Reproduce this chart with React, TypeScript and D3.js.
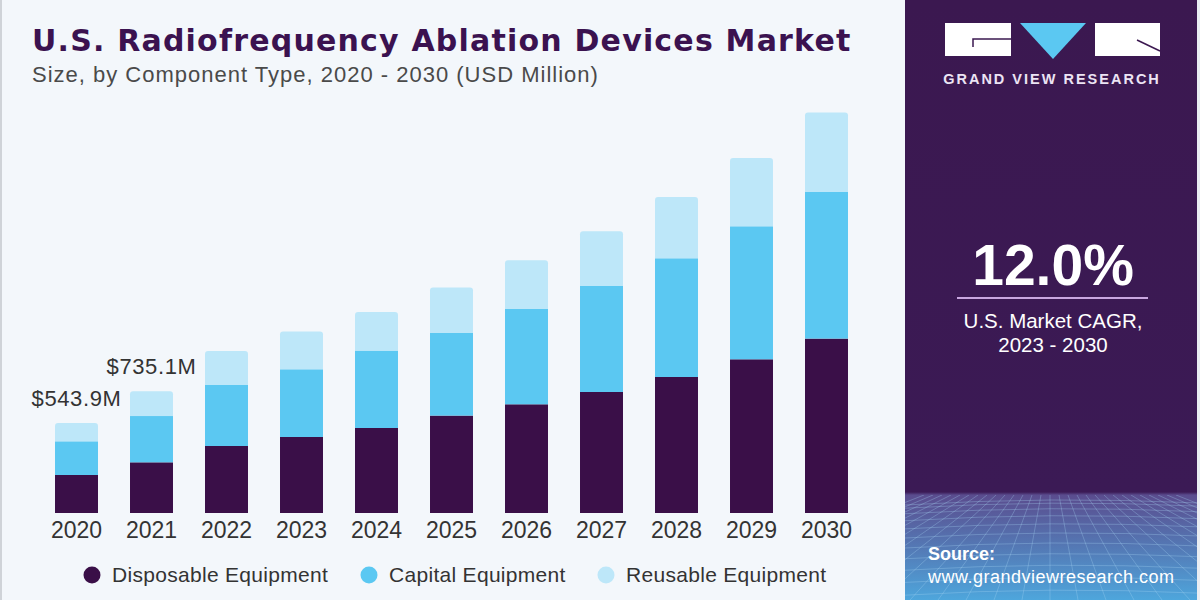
import * as d3 from "d3";

const years = ["2020", "2021", "2022", "2023", "2024", "2025", "2026", "2027", "2028", "2029", "2030"];
const disposable = [229.6, 306.2, 404.9, 459.3, 513.7, 588.6, 656.9, 731.2, 821.9, 928.8, 1053.9];
const capital = [203.4, 279.7, 368.6, 409.1, 467.7, 499.2, 575.9, 640.6, 717.3, 803.7, 885.9];
const reusable = [110.9, 149.2, 205.5, 227.8, 233.3, 274.4, 294.3, 330.5, 370.4, 412.7, 479.8];

const seriesKeys = ["disposable", "capital", "reusable"];
const seriesNames = ["Disposable Equipment", "Capital Equipment", "Reusable Equipment"];
const seriesColors = ["#3a0f48", "#5bc8f2", "#bde7f9"];

// only the first two years carry a total label
const labelledYears = ["2020", "2021"];

const W = 1200;
const H = 600;
const PANEL_X = 905;

const rows = years.map((year, i) => ({
  year,
  disposable: disposable[i],
  capital: capital[i],
  reusable: reusable[i],
}));

export default function App() {
  const x = d3.scaleBand<string>()
    .domain(years)
    .range([39, 864])
    .paddingInner(0.427)
    .paddingOuter(0.2135);

  const y = d3.scaleLinear().domain([0, 2500]).range([513, 99.3]);

  const stacked = d3.stack<(typeof rows)[number]>().keys(seriesKeys)(rows);
  const top = stacked[stacked.length - 1];

  // mesh in the lower part of the side panel
  const meshTop = 495;
  const hLines = d3.range(0, 12).map((i) => meshTop + 6 + Math.pow(i, 1.45) * 3.2);
  const vLines = d3.range(-14, 15).map((i) => i);

  const roundedTop = (x0: number, y0: number, w: number, h: number, r: number) =>
    `M${x0},${y0 + h}V${y0 + r}Q${x0},${y0} ${x0 + r},${y0}H${x0 + w - r}Q${x0 + w},${y0} ${x0 + w},${y0 + r}V${y0 + h}Z`;

  return (
    <div style={{ position: "absolute", left: 0, top: 0 }}>
      <svg width={W} height={H} style={{ display: "block" }} fontFamily="'Liberation Sans', Arial, sans-serif">
        <defs>
          <linearGradient id="panelGrad" x1="0" y1="0" x2="0" y2="1">
            <stop offset="0" stopColor="#3b1850" />
            <stop offset="0.82" stopColor="#3b1a55" />
            <stop offset="0.825" stopColor="#5a4c8e" />
            <stop offset="1" stopColor="#4ea6dc" />
          </linearGradient>
          <clipPath id="meshClip">
            <rect x={PANEL_X} y={meshTop} width={W - 3 - PANEL_X} height={H - meshTop} />
          </clipPath>
        </defs>

        <rect x={0} y={0} width={W} height={H} fill="#f3f7fb" />
        <rect x={0} y={0} width={2} height={H} fill="#cfd3d8" />

        {/* side panel */}
        <rect x={PANEL_X} y={0} width={W - 3 - PANEL_X} height={H} fill="url(#panelGrad)" />
        <rect x={W - 3} y={0} width={3} height={H} fill="#e9edf2" />
        <g clipPath="url(#meshClip)" stroke="#a8d8f4" strokeOpacity={0.3} strokeWidth={1} fill="none">
          {hLines.map((ly, i) => (
            <path key={`h${i}`} d={`M${PANEL_X},${ly + 4}Q${1050},${ly - 5} ${W},${ly + 2}`} />
          ))}
          {vLines.map((v) => (
            <line key={`v${v}`} x1={1050 + v * 9} y1={meshTop} x2={1050 + v * 28} y2={H} />
          ))}
        </g>

        {/* logo */}
        <rect x={945} y={23} width={66} height={33} fill="#ffffff" />
        <path d="M1020,23H1086L1053,59Z" fill="#5bc8f2" />
        <rect x={1095} y={23} width={65} height={33} fill="#ffffff" />
        <path d="M973,47V39H1011" stroke="#3b1850" strokeWidth={1.5} fill="none" />
        <path d="M1137,40L1160,51" stroke="#3b1850" strokeWidth={1.5} fill="none" />
        <text x={1052} y={84} textAnchor="middle" fill="#ece4f4" fontSize={14.5} fontWeight={700} letterSpacing={2}>
          GRAND VIEW RESEARCH
        </text>

        <text x={1053} y={285} textAnchor="middle" fill="#ffffff" fontSize={57} fontWeight={700}>
          12.0%
        </text>
        <line x1={957} x2={1148} y1={298} y2={298} stroke="#c9a6e0" strokeWidth={2} />
        <text x={1053} y={328} textAnchor="middle" fill="#ffffff" fontSize={20.5}>
          U.S. Market CAGR,
        </text>
        <text x={1053} y={352} textAnchor="middle" fill="#ffffff" fontSize={20.5}>
          2023 - 2030
        </text>

        <text x={928} y={560} fill="#ffffff" fontSize={18} fontWeight={700}>
          Source:
        </text>
        <text x={928} y={583} fill="#ffffff" fontSize={18} letterSpacing={0.5}>
          www.grandviewresearch.com
        </text>

        {/* titles */}
        <text x={32} y={51} fill="#3b1250" fontSize={30} fontWeight={900} letterSpacing={1.2} fontFamily="'DejaVu Sans', sans-serif">
          U.S. Radiofrequency Ablation Devices Market
        </text>
        <text x={32} y={82} fill="#4a4a4a" fontSize={22} letterSpacing={1}>
          Size, by Component Type, 2020 - 2030 (USD Million)
        </text>

        {/* stacked bars */}
        {stacked.map((layer, li) => (
          <g key={layer.key} fill={seriesColors[li]}>
            {layer.map((d) => {
              const bx = x(d.data.year) ?? 0;
              const bw = x.bandwidth();
              const y0 = y(d[1]);
              const h = y(d[0]) - y(d[1]);
              return li === stacked.length - 1 ? (
                <path key={d.data.year} d={roundedTop(bx, y0, bw, h, 3)} />
              ) : (
                <rect key={d.data.year} x={bx} y={y0} width={bw} height={h} />
              );
            })}
          </g>
        ))}

        {top
          .filter((d) => labelledYears.includes(d.data.year))
          .map((d) => (
            <text
              key={d.data.year}
              x={(x(d.data.year) ?? 0) + x.bandwidth() / 2}
              y={y(d[1]) - 17}
              textAnchor="middle"
              fill="#333333"
              fontSize={22}
              letterSpacing={0.6}
            >
              {`$${d[1].toFixed(1)}M`}
            </text>
          ))}

        {/* year axis */}
        {years.map((yr) => (
          <text
            key={yr}
            x={(x(yr) ?? 0) + x.bandwidth() / 2}
            y={538}
            textAnchor="middle"
            fill="#333333"
            fontSize={23}
          >
            {yr}
          </text>
        ))}

        {/* legend */}
        {seriesNames.map((name, i) => {
          const cx = [92, 369, 606][i];
          return (
            <g key={name}>
              <circle cx={cx} cy={575} r={8.5} fill={seriesColors[i]} />
              <text x={cx + 20} y={582} fill="#333333" fontSize={21} letterSpacing={0.3}>
                {name}
              </text>
            </g>
          );
        })}
      </svg>
    </div>
  );
}
